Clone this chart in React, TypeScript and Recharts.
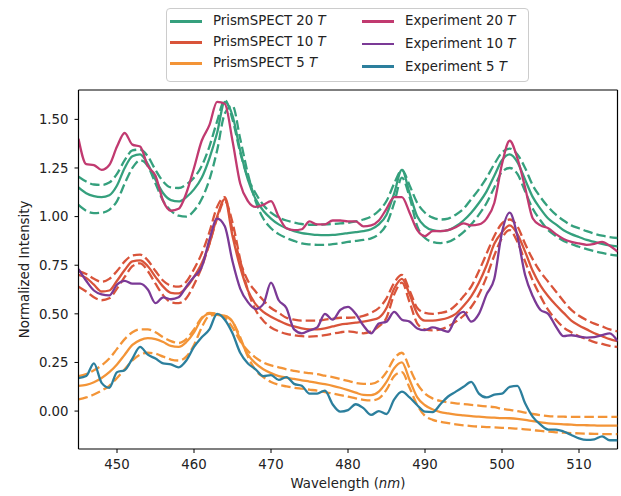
import { LineChart, Line, XAxis, YAxis, ReferenceLine } from 'recharts';

// wavelength grid (nm)
const wavelengths = [
  445, 446, 447, 448, 449, 450, 451, 452, 453, 454,
  455, 456, 457, 458, 459, 460, 461, 462, 463, 464,
  465, 466, 467, 468, 469, 470, 471, 472, 473, 474,
  475, 476, 477, 478, 479, 480, 481, 482, 483, 484,
  485, 486, 487, 488, 489, 490, 491, 492, 493, 494,
  495, 496, 497, 498, 499, 500, 501, 502, 503, 504,
  505, 506, 507, 508, 509, 510, 511, 512, 513, 514,
  515,
];

const prism20 = [
  1.15, 1.12, 1.105, 1.10, 1.11, 1.16, 1.25, 1.31, 1.32, 1.27,
  1.19, 1.12, 1.085, 1.078, 1.10, 1.14, 1.20, 1.30, 1.43, 1.59,
  1.52, 1.34, 1.19, 1.09, 1.03, 0.99, 0.96, 0.94, 0.925, 0.915,
  0.91, 0.906, 0.905, 0.906, 0.91, 0.915, 0.92, 0.925, 0.935, 0.96,
  1.01, 1.12, 1.24, 1.12, 1.00, 0.95, 0.93, 0.925, 0.93, 0.95,
  0.98, 1.02, 1.07, 1.13, 1.21, 1.29, 1.32, 1.28, 1.19, 1.10,
  1.04, 0.99, 0.96, 0.93, 0.91, 0.895, 0.88, 0.87, 0.86, 0.852,
  0.847,
];
const prism20Hi = [
  1.205, 1.18, 1.165, 1.163, 1.175, 1.22, 1.29, 1.34, 1.345, 1.31,
  1.24, 1.18, 1.15, 1.147, 1.165, 1.20, 1.26, 1.36, 1.49, 1.60,
  1.50, 1.33, 1.20, 1.12, 1.06, 1.02, 0.995, 0.98, 0.97, 0.962,
  0.958, 0.958, 0.96, 0.962, 0.965, 0.968, 0.975, 0.985, 1.00, 1.03,
  1.08, 1.17, 1.24, 1.16, 1.07, 1.02, 0.995, 0.985, 0.99, 1.01,
  1.04, 1.09, 1.14, 1.20, 1.27, 1.33, 1.35, 1.32, 1.25, 1.16,
  1.10, 1.05, 1.01, 0.98, 0.955, 0.94, 0.925, 0.912, 0.902, 0.895,
  0.89,
];
const prism20Lo = [
  1.06, 1.03, 1.018, 1.02, 1.035, 1.08, 1.17, 1.25, 1.29, 1.26,
  1.17, 1.08, 1.03, 1.005, 1.00, 1.03, 1.09, 1.19, 1.34, 1.53,
  1.57, 1.40, 1.22, 1.08, 0.99, 0.94, 0.91, 0.89, 0.875, 0.862,
  0.857, 0.855, 0.855, 0.858, 0.863, 0.87, 0.875, 0.88, 0.888, 0.91,
  0.96, 1.07, 1.20, 1.10, 0.95, 0.89, 0.87, 0.864, 0.87, 0.89,
  0.92, 0.96, 1.01, 1.07, 1.15, 1.23, 1.25, 1.22, 1.13, 1.04,
  0.98, 0.93, 0.90, 0.875, 0.86, 0.845, 0.833, 0.822, 0.813, 0.805,
  0.80,
];

const prism10 = [
  0.70, 0.685, 0.65, 0.615, 0.62, 0.67, 0.725, 0.77, 0.775, 0.745,
  0.69, 0.64, 0.608, 0.605, 0.635, 0.69, 0.76, 0.86, 1.00, 1.09,
  0.90, 0.74, 0.62, 0.55, 0.51, 0.485, 0.465, 0.447, 0.435, 0.425,
  0.42, 0.42, 0.425, 0.435, 0.445, 0.45, 0.455, 0.46, 0.468, 0.48,
  0.53, 0.63, 0.68, 0.60, 0.50, 0.465, 0.465, 0.47, 0.48, 0.50,
  0.54, 0.59, 0.66, 0.75, 0.86, 0.92, 0.955, 0.91, 0.82, 0.72,
  0.645, 0.59, 0.545, 0.505, 0.465, 0.44, 0.42, 0.40, 0.385, 0.37,
  0.36,
];
const prism10Hi = [
  0.72, 0.705, 0.68, 0.665, 0.68, 0.72, 0.77, 0.80, 0.805, 0.775,
  0.72, 0.67, 0.645, 0.64, 0.665, 0.73, 0.81, 0.92, 1.05, 1.10,
  0.93, 0.77, 0.67, 0.615, 0.57, 0.53, 0.505, 0.48, 0.47, 0.465,
  0.465, 0.465, 0.47, 0.475, 0.48, 0.48, 0.482, 0.49, 0.505, 0.53,
  0.58, 0.66, 0.70, 0.62, 0.53, 0.505, 0.50, 0.505, 0.515, 0.545,
  0.59, 0.64, 0.72, 0.81, 0.90, 0.965, 0.985, 0.95, 0.86, 0.78,
  0.715, 0.665, 0.615, 0.565, 0.52, 0.49, 0.468, 0.45, 0.435, 0.42,
  0.41,
];
const prism10Lo = [
  0.64, 0.615, 0.585, 0.57, 0.58, 0.63, 0.69, 0.745, 0.76, 0.72,
  0.655, 0.595, 0.56, 0.555, 0.58, 0.65, 0.74, 0.86, 0.99, 1.08,
  0.97, 0.78, 0.62, 0.52, 0.465, 0.43, 0.41, 0.397, 0.39, 0.385,
  0.383, 0.385, 0.39, 0.398, 0.405, 0.41, 0.405, 0.40, 0.41, 0.435,
  0.48, 0.60, 0.66, 0.56, 0.45, 0.42, 0.415, 0.42, 0.435, 0.46,
  0.49, 0.535, 0.60, 0.69, 0.80, 0.89, 0.93, 0.87, 0.77, 0.67,
  0.59, 0.52, 0.47, 0.43, 0.405, 0.385, 0.37, 0.355, 0.345, 0.335,
  0.33,
];

const prism5 = [
  0.13, 0.135, 0.148, 0.17, 0.20, 0.24, 0.29, 0.34, 0.365, 0.375,
  0.37, 0.355, 0.335, 0.33, 0.355, 0.405, 0.475, 0.50, 0.495, 0.49,
  0.46, 0.37, 0.29, 0.245, 0.215, 0.195, 0.18, 0.172, 0.165, 0.158,
  0.152, 0.145, 0.138, 0.13, 0.12, 0.108, 0.095, 0.083, 0.082, 0.10,
  0.15, 0.22, 0.25, 0.16, 0.07, 0.03, 0.008, -0.005, -0.012, -0.018,
  -0.022, -0.026, -0.029, -0.032, -0.034, -0.036, -0.037, -0.04, -0.045, -0.052,
  -0.058, -0.063, -0.066, -0.068, -0.07, -0.072, -0.073, -0.074, -0.075, -0.075,
  -0.075,
];
const prism5Hi = [
  0.18, 0.19, 0.21, 0.235, 0.27, 0.32, 0.37, 0.405, 0.42, 0.42,
  0.405, 0.38, 0.36, 0.35, 0.37, 0.42, 0.48, 0.505, 0.50, 0.48,
  0.43, 0.36, 0.31, 0.275, 0.25, 0.235, 0.225, 0.215, 0.207, 0.20,
  0.195, 0.19, 0.182, 0.175, 0.165, 0.155, 0.145, 0.14, 0.14, 0.155,
  0.20, 0.27, 0.30, 0.22, 0.14, 0.09, 0.065, 0.052, 0.045, 0.04,
  0.036, 0.032, 0.028, 0.024, 0.02, 0.012, 0.006, 0.0, -0.008, -0.015,
  -0.021, -0.026, -0.028, -0.029, -0.03, -0.03, -0.03, -0.03, -0.03, -0.03,
  -0.03,
];
const prism5Lo = [
  0.06, 0.07, 0.085, 0.105, 0.13, 0.17, 0.215, 0.26, 0.29, 0.30,
  0.295, 0.28, 0.265, 0.26, 0.28, 0.34, 0.43, 0.49, 0.495, 0.49,
  0.46, 0.38, 0.28, 0.21, 0.175, 0.15, 0.135, 0.127, 0.12, 0.115,
  0.11, 0.105, 0.098, 0.09, 0.082, 0.074, 0.065, 0.058, 0.055, 0.065,
  0.11, 0.18, 0.20, 0.12, 0.03, -0.025, -0.045, -0.055, -0.062, -0.068,
  -0.073, -0.077, -0.08, -0.082, -0.084, -0.086, -0.088, -0.09, -0.094, -0.098,
  -0.102, -0.106, -0.109, -0.111, -0.113, -0.115, -0.116, -0.117, -0.118, -0.118,
  -0.119,
];

const exp20 = [
  1.40, 1.27, 1.265, 1.24, 1.265, 1.36, 1.43, 1.37, 1.36, 1.26,
  1.21, 1.08, 1.03, 1.04, 1.12, 1.25, 1.39, 1.47, 1.59, 1.58,
  1.39, 1.17, 1.08, 1.05, 1.06, 1.08, 1.00, 0.94, 0.93, 0.935,
  0.975, 0.96, 0.96, 0.98, 0.98, 0.975, 0.975, 0.95, 0.955, 0.98,
  1.04, 1.10, 1.10, 1.02, 0.93, 0.90, 0.925, 0.925, 0.93, 0.945,
  0.965, 0.955, 0.96, 0.99, 1.07, 1.27, 1.39, 1.30, 1.15, 0.99,
  0.955, 0.94, 0.91, 0.885, 0.87, 0.862, 0.855, 0.86, 0.87, 0.85,
  0.82,
];
const exp10 = [
  0.73, 0.67, 0.62, 0.60, 0.595, 0.65, 0.67, 0.655, 0.655, 0.625,
  0.555, 0.585, 0.575, 0.585, 0.64, 0.69, 0.74, 0.88, 0.99, 0.95,
  0.77, 0.63, 0.56, 0.525, 0.55, 0.66, 0.57, 0.53, 0.42, 0.40,
  0.415, 0.43, 0.50, 0.47, 0.52, 0.536, 0.50, 0.44, 0.40, 0.45,
  0.46, 0.51, 0.47, 0.46, 0.425, 0.416, 0.43, 0.42, 0.408, 0.48,
  0.51, 0.46, 0.50, 0.60, 0.68, 0.92, 1.02, 0.90, 0.70, 0.59,
  0.52, 0.50, 0.435, 0.385, 0.39, 0.383, 0.378, 0.38, 0.39, 0.40,
  0.36,
];
const exp5 = [
  0.17, 0.18, 0.245, 0.145, 0.12, 0.20, 0.21, 0.27, 0.33, 0.29,
  0.27, 0.245, 0.24, 0.225, 0.26, 0.33, 0.38, 0.42, 0.50, 0.47,
  0.40, 0.30, 0.245, 0.215, 0.18, 0.185, 0.16, 0.175, 0.14, 0.13,
  0.09, 0.09, 0.105, 0.035, -0.003, 0.005, 0.035, 0.015, -0.02, 0.0,
  -0.015, 0.06, 0.10, 0.07, 0.03, -0.003, -0.005, 0.035, 0.075, 0.10,
  0.125, 0.15, 0.09, 0.07, 0.085, 0.09, 0.125, 0.13, 0.04, -0.03,
  -0.07, -0.095, -0.095, -0.105, -0.123, -0.14, -0.148, -0.145, -0.13, -0.15,
  -0.15,
];

const xTicks = [450, 460, 470, 480, 490, 500, 510];
const yTicks = [0, 0.25, 0.5, 0.75, 1.0, 1.25, 1.5];

const GREEN = '#35a07d';
const RED = '#d9543a';
const ORANGE = '#f39437';
const PINK = '#c13a70';
const PURPLE = '#7b3a96';
const TEAL = '#2c7f9d';

const rows = wavelengths.map((wl, i) => ({
  wl,
  prism20: prism20[i], prism20Hi: prism20Hi[i], prism20Lo: prism20Lo[i],
  prism10: prism10[i], prism10Hi: prism10Hi[i], prism10Lo: prism10Lo[i],
  prism5: prism5[i], prism5Hi: prism5Hi[i], prism5Lo: prism5Lo[i],
  exp20: exp20[i], exp10: exp10[i], exp5: exp5[i],
}));

const FONT = '"DejaVu Sans", sans-serif';
const FS = 13.3;
const DASH = '9.5 4';
const LW = 2.3;

const legendItems = [
  { label: 'PrismSPECT 20 ', color: GREEN, lineX: 170, textX: 213, y: 21.3 },
  { label: 'PrismSPECT 10 ', color: RED, lineX: 170, textX: 213, y: 42.3 },
  { label: 'PrismSPECT 5 ', color: ORANGE, lineX: 170, textX: 213, y: 63.3 },
  { label: 'Experiment 20 ', color: PINK, lineX: 362, textX: 405, y: 21.3 },
  { label: 'Experiment 10 ', color: PURPLE, lineX: 362, textX: 405, y: 44 },
  { label: 'Experiment 5 ', color: TEAL, lineX: 362, textX: 405, y: 66.7 },
];

export default function App() {
  const tick = { fontSize: FS, fill: '#222', fontFamily: FONT };
  return (
    <div style={{ position: 'absolute', left: 0, top: 0, width: 621, height: 496, fontFamily: FONT, background: '#fff' }}>
      <LineChart width={621} height={496} data={rows} margin={{ top: 90, right: 3.5, bottom: 0, left: 0 }}>
        <XAxis
          dataKey="wl"
          type="number"
          domain={[445, 515]}
          ticks={xTicks}
          allowDataOverflow
          height={47}
          tick={tick}
          tickSize={4}
          tickMargin={7}
          stroke="#000"
          tickLine={{ stroke: '#000' }}
          axisLine={{ stroke: '#000', strokeWidth: 1.2 }}
          label={{
            content: () => (
              <text x={348} y={488} textAnchor="middle" fontSize={FS} fill="#222" fontFamily={FONT}>
                Wavelength (<tspan fontStyle="italic">nm</tspan>)
              </text>
            ),
          }}
        />
        <YAxis
          type="number"
          domain={[-0.195, 1.651]}
          ticks={yTicks}
          allowDataOverflow
          width={78.5}
          tick={tick}
          tickSize={4}
          tickMargin={6}
          tickFormatter={(v: number) => v.toFixed(2)}
          stroke="#000"
          tickLine={{ stroke: '#000' }}
          axisLine={{ stroke: '#000', strokeWidth: 1.2 }}
          label={{
            content: () => (
              <text
                x={24}
                y={269.5}
                transform="rotate(-90 24 269.5)"
                textAnchor="middle"
                dominantBaseline="central"
                fontSize={FS}
                fill="#222"
                fontFamily={FONT}
              >
                Normalized Intensity
              </text>
            ),
          }}
        />
        <ReferenceLine y={1.651} stroke="#000" strokeWidth={1.2} />
        <ReferenceLine x={515} stroke="#000" strokeWidth={1.2} />

        <Line dataKey="prism20Hi" stroke={GREEN} strokeWidth={LW} strokeDasharray={DASH} dot={false} type="monotone" isAnimationActive={false} />
        <Line dataKey="prism20" stroke={GREEN} strokeWidth={LW} dot={false} type="monotone" isAnimationActive={false} />
        <Line dataKey="prism20Lo" stroke={GREEN} strokeWidth={LW} strokeDasharray={DASH} dot={false} type="monotone" isAnimationActive={false} />
        <Line dataKey="prism10Hi" stroke={RED} strokeWidth={LW} strokeDasharray={DASH} dot={false} type="monotone" isAnimationActive={false} />
        <Line dataKey="prism10" stroke={RED} strokeWidth={LW} dot={false} type="monotone" isAnimationActive={false} />
        <Line dataKey="prism10Lo" stroke={RED} strokeWidth={LW} strokeDasharray={DASH} dot={false} type="monotone" isAnimationActive={false} />
        <Line dataKey="prism5Hi" stroke={ORANGE} strokeWidth={LW} strokeDasharray={DASH} dot={false} type="monotone" isAnimationActive={false} />
        <Line dataKey="prism5" stroke={ORANGE} strokeWidth={LW} dot={false} type="monotone" isAnimationActive={false} />
        <Line dataKey="prism5Lo" stroke={ORANGE} strokeWidth={LW} strokeDasharray={DASH} dot={false} type="monotone" isAnimationActive={false} />

        <Line dataKey="exp20" stroke={PINK} strokeWidth={LW} dot={false} type="monotone" isAnimationActive={false} />
        <Line dataKey="exp10" stroke={PURPLE} strokeWidth={LW} dot={false} type="monotone" isAnimationActive={false} />
        <Line dataKey="exp5" stroke={TEAL} strokeWidth={LW} dot={false} type="monotone" isAnimationActive={false} />
      </LineChart>

      <div
        style={{
          position: 'absolute', left: 166, top: 8, width: 363, height: 74,
          border: '1px solid #cccccc', borderRadius: 4, boxSizing: 'border-box',
          background: 'rgba(255,255,255,0.8)',
        }}
      />
      {legendItems.map((it) => (
        <div key={it.label}>
          <div style={{ position: 'absolute', left: it.lineX, top: it.y - 1.25, width: 32, height: 2.5, background: it.color }} />
          <div
            style={{
              position: 'absolute', left: it.textX, top: it.y - 9, lineHeight: '18px',
              fontSize: FS, color: '#222', whiteSpace: 'nowrap',
            }}
          >
            {it.label}<i>T</i>
          </div>
        </div>
      ))}
    </div>
  );
}
